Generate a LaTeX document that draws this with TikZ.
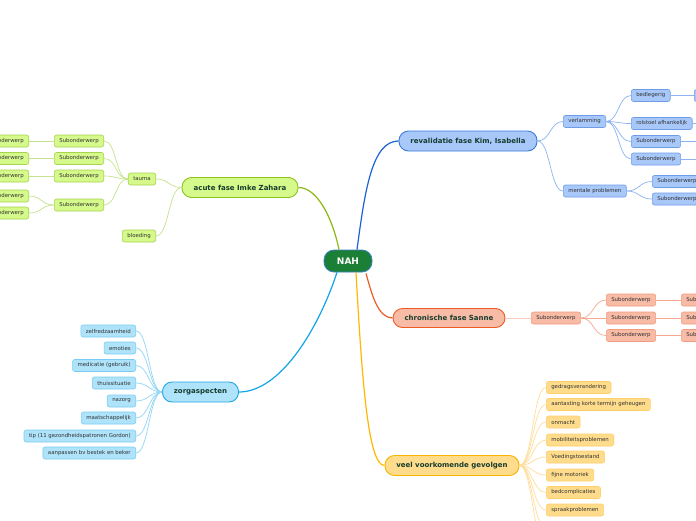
\documentclass[tikz,border=0pt]{standalone}
\usepackage{fontspec}
\setmainfont{DejaVu Sans}
\definecolor{maintxt}{HTML}{163C2E}
\definecolor{subtxt}{HTML}{333333}
\definecolor{nahfill}{HTML}{1B8036}
\definecolor{nahdraw}{HTML}{3C7FC0}
% green
\definecolor{gconn}{HTML}{8DB814}
\definecolor{gfill}{HTML}{D5F98A}
\definecolor{gdraw}{HTML}{8DC21F}
\definecolor{gsdraw}{HTML}{A6D44E}
\definecolor{gsconn}{HTML}{C5E38E}
% blue
\definecolor{bconn}{HTML}{1A63D6}
\definecolor{bfill}{HTML}{A8C8FA}
\definecolor{bdraw}{HTML}{3A7BDB}
\definecolor{bsdraw}{HTML}{6E9CE8}
\definecolor{bsconn}{HTML}{8DB3F2}
% red
\definecolor{rconn}{HTML}{EE5A24}
\definecolor{rfill}{HTML}{F8BBA6}
\definecolor{rdraw}{HTML}{EE5A24}
\definecolor{rsdraw}{HTML}{F29A7E}
\definecolor{rsconn}{HTML}{F5A88E}
% cyan
\definecolor{cconn}{HTML}{12A5E8}
\definecolor{cfill}{HTML}{AEE3FA}
\definecolor{cdraw}{HTML}{1EA8E6}
\definecolor{csdraw}{HTML}{7ACDF2}
\definecolor{csconn}{HTML}{90D6F5}
% yellow
\definecolor{yconn}{HTML}{FFB800}
\definecolor{yfill}{HTML}{FFDC8C}
\definecolor{ydraw}{HTML}{F8B500}
\definecolor{ysdraw}{HTML}{FFCF6A}
\definecolor{ysconn}{HTML}{FFDD99}
\newcommand{\myR}[3]{\draw[#1] (#2.east) .. controls +(13,0) and +(-13,0) .. (#3.west);}
\newcommand{\myL}[3]{\draw[#1] (#2.west) .. controls +(-13,0) and +(13,0) .. (#3.east);}
\begin{document}
\begin{tikzpicture}[x=1pt,y=-1pt,
  mainbox/.style={draw, line width=0.9pt, rounded corners=9.5pt, minimum height=20pt, inner xsep=0pt, inner ysep=0pt, font=\fontsize{7}{8}\selectfont\bfseries, text=maintxt},
  subbox/.style={draw, line width=0.6pt, rounded corners=2.2pt, minimum height=12pt, inner xsep=5pt, inner ysep=0pt, font=\fontsize{5.4}{6}\selectfont, text=subtxt},
  gmain/.style={mainbox, fill=gfill, draw=gdraw},
  gsub/.style={subbox, fill=gfill, draw=gsdraw},
  bmain/.style={mainbox, fill=bfill, draw=bdraw},
  bsub/.style={subbox, fill=bfill, draw=bsdraw},
  rmain/.style={mainbox, fill=rfill, draw=rdraw},
  rsub/.style={subbox, fill=rfill, draw=rsdraw},
  cmain/.style={mainbox, fill=cfill, draw=cdraw},
  csub/.style={subbox, fill=cfill, draw=csdraw},
  ymain/.style={mainbox, fill=yfill, draw=ydraw},
  ysub/.style={subbox, fill=yfill, draw=ysdraw},
  gl/.style={draw=gsconn, line width=0.7pt},
  bl/.style={draw=bsconn, line width=0.7pt},
  rl/.style={draw=rsconn, line width=0.7pt},
  cl/.style={draw=csconn, line width=0.7pt},
  yl/.style={draw=ysconn, line width=0.7pt},
  mainline/.style={line width=1.2pt}
]
\path[use as bounding box] (0,0) rectangle (696,520);
\fill[white] (0,0) rectangle (696,520);
\clip (0,0) rectangle (696,520);

% ---------- center
\node[draw=nahdraw, fill=nahfill, line width=0.8pt, rounded corners=10pt, minimum width=48pt, minimum height=22pt, inner sep=0pt, text=white, font=\fontsize{9}{10}\selectfont\bfseries] (nah) at (348,261) {NAH};

% ---------- main nodes
\node[gmain, minimum width=116pt] (acute) at (240,187.5) {acute fase Imke Zahara};
\node[bmain, minimum width=138pt] (reval) at (468,141) {revalidatie fase Kim, Isabella};
\node[rmain, minimum width=112pt, minimum height=19pt] (chron) at (449,318) {chronische fase Sanne};
\node[cmain, minimum width=76pt] (zorg) at (200.5,392) {zorgaspecten};
\node[ymain, minimum width=134pt] (veel) at (452,465.5) {veel voorkomende gevolgen};

% ---------- main connectors
\draw[gconn, mainline] ([xshift=-9pt]nah.north) .. controls (333,220) and (318,187.5) .. (acute.east);
\draw[bconn, mainline] ([xshift=9pt]nah.north) .. controls (365,190) and (372,141) .. (reval.west);
\draw[cconn, mainline] ([xshift=-11pt]nah.south) .. controls (318,330) and (280,392) .. (zorg.east);
\draw[rconn, mainline] ([xshift=18pt,yshift=-1pt]nah.south) .. controls (372,295) and (378,318) .. (chron.west);
\draw[yconn, mainline] ([xshift=8pt]nah.south) .. controls (362,380) and (368,465.5) .. (veel.west);

% ---------- green subtree
\node[gsub, anchor=east] (tauma) at (156,179) {tauma};
\node[gsub, anchor=east] (bloed) at (156,236) {bloeding};
\node[gsub, anchor=east] (ga) at (104,141) {Subonderwerp};
\node[gsub, anchor=east] (gb) at (104,158.5) {Subonderwerp};
\node[gsub, anchor=east] (gc) at (104,176) {Subonderwerp};
\node[gsub, anchor=east] (gd) at (104,205) {Subonderwerp};
\node[gsub, anchor=east] (ga1) at (29,141) {Subonderwerp};
\node[gsub, anchor=east] (gb1) at (29,158.5) {Subonderwerp};
\node[gsub, anchor=east] (gc1) at (29,176) {Subonderwerp};
\node[gsub, anchor=east] (gd1) at (29,196) {Subonderwerp};
\node[gsub, anchor=east] (gd2) at (29,213) {Subonderwerp};
\myL{gl}{acute}{tauma}
\myL{gl}{acute}{bloed}
\myL{gl}{tauma}{ga}
\myL{gl}{tauma}{gb}
\myL{gl}{tauma}{gc}
\myL{gl}{tauma}{gd}
\myL{gl}{ga}{ga1}
\myL{gl}{gb}{gb1}
\myL{gl}{gc}{gc1}
\myL{gl}{gd}{gd1}
\myL{gl}{gd}{gd2}

% ---------- blue subtree
\node[bsub, anchor=west] (verl) at (563,121.5) {verlamming};
\node[bsub, anchor=west] (ment) at (563,191) {mentale problemen};
\node[bsub, anchor=west] (bedl) at (631,95.5) {bedlegerig};
\node[bsub, anchor=west] (rols) at (631,123.5) {rolstoel afhankelijk};
\node[bsub, anchor=west] (bsa) at (631,141.5) {Subonderwerp};
\node[bsub, anchor=west] (bsb) at (631,159) {Subonderwerp};
\node[bsub, anchor=west] (bedlx) at (694,95.5) {Subonderwerp};
\node[bsub, anchor=west] (mca) at (652,181.5) {Subonderwerp};
\node[bsub, anchor=west] (mcb) at (652,199) {Subonderwerp};
\coordinate (rolsx) at (720,123.5);
\coordinate (bsax) at (710,141.5);
\coordinate (bsbx) at (710,159);
\myR{bl}{reval}{verl}
\myR{bl}{reval}{ment}
\myR{bl}{verl}{bedl}
\myR{bl}{verl}{rols}
\myR{bl}{verl}{bsa}
\myR{bl}{verl}{bsb}
\myR{bl}{bedl}{bedlx}
\myR{bl}{ment}{mca}
\myR{bl}{ment}{mcb}
\draw[bl] (rols.east) -- (rolsx);
\draw[bl] (bsa.east) -- (bsax);
\draw[bl] (bsb.east) -- (bsbx);

% ---------- red subtree
\node[rsub, anchor=west] (rs) at (531,318) {Subonderwerp};
\node[rsub, anchor=west] (rsa) at (606,300) {Subonderwerp};
\node[rsub, anchor=west] (rsb) at (606,318) {Subonderwerp};
\node[rsub, anchor=west] (rsc) at (606,335.5) {Subonderwerp};
\node[rsub, anchor=west] (rsa1) at (681,300) {Subonderwerp};
\node[rsub, anchor=west] (rsb1) at (681,318) {Subonderwerp};
\node[rsub, anchor=west] (rsc1) at (681,335.5) {Subonderwerp};
\draw[rl, draw=rsconn!60] (chron.east) -- (rs.west);
\myR{rl}{rs}{rsa}
\myR{rl}{rs}{rsb}
\myR{rl}{rs}{rsc}
\myR{rl}{rsa}{rsa1}
\myR{rl}{rsb}{rsb1}
\myR{rl}{rsc}{rsc1}

% ---------- cyan subtree
\node[csub, anchor=east] (c1) at (136,331) {zelfredzaamheid};
\node[csub, anchor=east] (c2) at (136,348) {emoties};
\node[csub, anchor=east] (c3) at (136,365.5) {medicatie (gebruik)};
\node[csub, anchor=east] (c4) at (136,383) {thuissituatie};
\node[csub, anchor=east] (c5) at (136,401) {nazorg};
\node[csub, anchor=east] (c6) at (136,418) {maatschappelijk};
\node[csub, anchor=east] (c7) at (136,436) {tip (11 gezondheidspatronen Gordon)};
\node[csub, anchor=east] (c8) at (136,453) {aanpassen bv bestek en beker};
\foreach \c in {c1,c2,c3,c4,c5,c6,c7,c8} { \myL{cl}{zorg}{\c} }

% ---------- yellow subtree
\node[ysub, anchor=west] (y1) at (546,387.5) {gedragsverandering};
\node[ysub, anchor=west] (y2) at (546,404.5) {aantasting korte termijn geheugen};
\node[ysub, anchor=west] (y3) at (546,422) {onmacht};
\node[ysub, anchor=west] (y4) at (546,440) {mobiliteitsproblemen};
\node[ysub, anchor=west] (y5) at (546,457) {Voedingstoestand};
\node[ysub, anchor=west] (y6) at (546,475) {fijne motoriek};
\node[ysub, anchor=west] (y7) at (546,492.5) {bedcomplicaties};
\node[ysub, anchor=west] (y8) at (546,510) {spraakproblemen};
\coordinate (y9) at (546,527.5);
\coordinate (y10) at (546,545);
\foreach \c in {y1,y2,y3,y4,y5,y6,y7,y8} { \myR{yl}{veel}{\c} }
\draw[yl] (veel.east) .. controls +(13,0) and +(-13,0) .. (y9);
\draw[yl] (veel.east) .. controls +(13,0) and +(-13,0) .. (y10);
\end{tikzpicture}
\end{document}
